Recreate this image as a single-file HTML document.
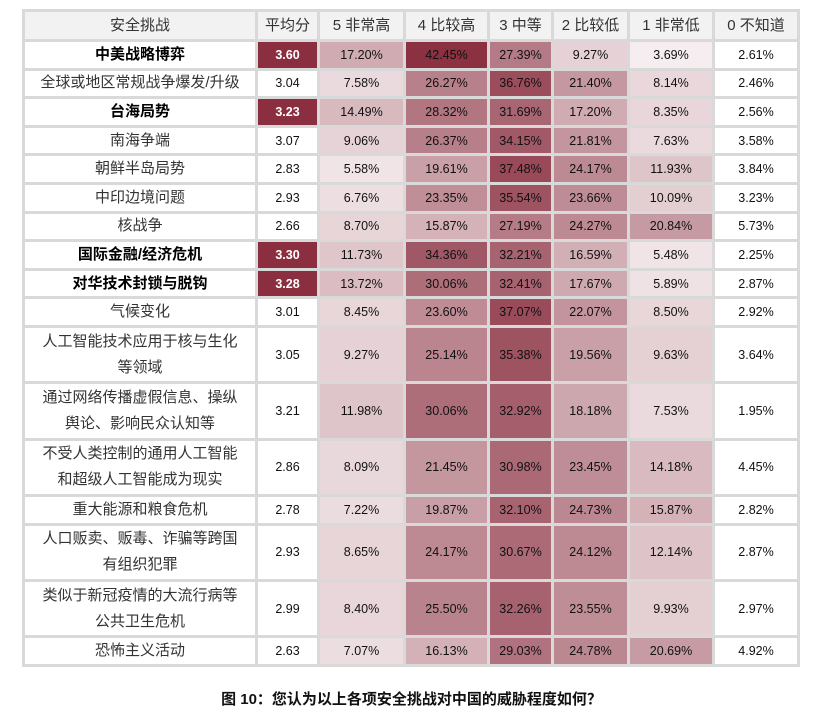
<!DOCTYPE html>
<html><head><meta charset="utf-8">
<style>
body{margin:0;width:823px;height:722px;background:#fff;overflow:hidden;font-family:"Liberation Sans","Noto Sans CJK SC",sans-serif;}
table{position:absolute;left:22px;top:9px;border-collapse:separate;border-spacing:3px;background:#d9d9d9;table-layout:fixed;}
td{background:#fff;text-align:center;padding:0;font-size:12.5px;color:#111;height:25.6px;line-height:16px;overflow:hidden;}
td.l{font-size:15px;color:#333;line-height:24px;}
td.b{font-weight:bold;color:#000;}
tr.h td{background:#f2f2f2;font-size:15px;color:#333;height:27px;line-height:24px;}
tr.d td{height:53.4px;}
tr.d td.l{line-height:26px;}
td.a{background:#8b2f40;color:#fff;font-weight:bold;}
.cap{position:absolute;left:0;width:823px;top:690px;text-align:center;font-weight:bold;font-size:15px;color:#111;line-height:20px;}
</style></head><body>
<table>
<colgroup><col style="width:230px"><col style="width:59px"><col style="width:83px"><col style="width:81px"><col style="width:61px"><col style="width:73px"><col style="width:82px"><col style="width:82px"></colgroup>
<tr class="h"><td>安全挑战</td><td>平均分</td><td>5 非常高</td><td>4 比较高</td><td>3 中等</td><td>2 比较低</td><td>1 非常低</td><td>0 不知道</td></tr>
<tr><td class="l b">中美战略博弈</td><td class="a">3.60</td><td>17.20%</td><td>42.45%</td><td>27.39%</td><td>9.27%</td><td>3.69%</td><td>2.61%</td></tr>
<tr><td class="l">全球或地区常规战争爆发/升级</td><td>3.04</td><td>7.58%</td><td>26.27%</td><td>36.76%</td><td>21.40%</td><td>8.14%</td><td>2.46%</td></tr>
<tr><td class="l b">台海局势</td><td class="a">3.23</td><td>14.49%</td><td>28.32%</td><td>31.69%</td><td>17.20%</td><td>8.35%</td><td>2.56%</td></tr>
<tr><td class="l">南海争端</td><td>3.07</td><td>9.06%</td><td>26.37%</td><td>34.15%</td><td>21.81%</td><td>7.63%</td><td>3.58%</td></tr>
<tr><td class="l">朝鲜半岛局势</td><td>2.83</td><td>5.58%</td><td>19.61%</td><td>37.48%</td><td>24.17%</td><td>11.93%</td><td>3.84%</td></tr>
<tr><td class="l">中印边境问题</td><td>2.93</td><td>6.76%</td><td>23.35%</td><td>35.54%</td><td>23.66%</td><td>10.09%</td><td>3.23%</td></tr>
<tr><td class="l">核战争</td><td>2.66</td><td>8.70%</td><td>15.87%</td><td>27.19%</td><td>24.27%</td><td>20.84%</td><td>5.73%</td></tr>
<tr><td class="l b">国际金融/经济危机</td><td class="a">3.30</td><td>11.73%</td><td>34.36%</td><td>32.21%</td><td>16.59%</td><td>5.48%</td><td>2.25%</td></tr>
<tr><td class="l b">对华技术封锁与脱钩</td><td class="a">3.28</td><td>13.72%</td><td>30.06%</td><td>32.41%</td><td>17.67%</td><td>5.89%</td><td>2.87%</td></tr>
<tr><td class="l">气候变化</td><td>3.01</td><td>8.45%</td><td>23.60%</td><td>37.07%</td><td>22.07%</td><td>8.50%</td><td>2.92%</td></tr>
<tr class="d"><td class="l">人工智能技术应用于核与生化<br>等领域</td><td>3.05</td><td>9.27%</td><td>25.14%</td><td>35.38%</td><td>19.56%</td><td>9.63%</td><td>3.64%</td></tr>
<tr class="d"><td class="l">通过网络传播虚假信息、操纵<br>舆论、影响民众认知等</td><td>3.21</td><td>11.98%</td><td>30.06%</td><td>32.92%</td><td>18.18%</td><td>7.53%</td><td>1.95%</td></tr>
<tr class="d"><td class="l">不受人类控制的通用人工智能<br>和超级人工智能成为现实</td><td>2.86</td><td>8.09%</td><td>21.45%</td><td>30.98%</td><td>23.45%</td><td>14.18%</td><td>4.45%</td></tr>
<tr><td class="l">重大能源和粮食危机</td><td>2.78</td><td>7.22%</td><td>19.87%</td><td>32.10%</td><td>24.73%</td><td>15.87%</td><td>2.82%</td></tr>
<tr class="d"><td class="l">人口贩卖、贩毒、诈骗等跨国<br>有组织犯罪</td><td>2.93</td><td>8.65%</td><td>24.17%</td><td>30.67%</td><td>24.12%</td><td>12.14%</td><td>2.87%</td></tr>
<tr class="d"><td class="l">类似于新冠疫情的大流行病等<br>公共卫生危机</td><td>2.99</td><td>8.40%</td><td>25.50%</td><td>32.26%</td><td>23.55%</td><td>9.93%</td><td>2.97%</td></tr>
<tr><td class="l">恐怖主义活动</td><td>2.63</td><td>7.07%</td><td>16.13%</td><td>29.03%</td><td>24.78%</td><td>20.69%</td><td>4.92%</td></tr>
</table>
<div class="cap">图 10：您认为以上各项安全挑战对中国的威胁程度如何？</div>
<script>
document.querySelectorAll('tr:not(.h)').forEach(function(tr){
  var c=tr.children;
  for(var i=2;i<=6;i++){
    var v=parseFloat(c[i].textContent),t=Math.min(1,v/42.45);
    var r=Math.round(255+(139-255)*t),g=Math.round(255+(49-255)*t),b=Math.round(255+(66-255)*t);
    c[i].style.background='rgb('+r+','+g+','+b+')';
  }
});
</script>
</body></html>
